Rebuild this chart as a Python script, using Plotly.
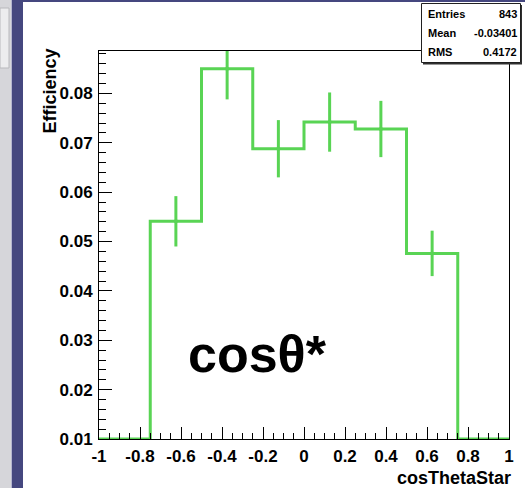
import plotly.graph_objects as go

# ---- data ----
bin_edges = [-1.0, -0.75, -0.5, -0.25, 0.0, 0.25, 0.5, 0.75, 1.0]
bin_centers = [-0.875, -0.625, -0.375, -0.125, 0.125, 0.375, 0.625, 0.875]
efficiency = [0.0, 0.0541, 0.0850, 0.0688, 0.0742, 0.0728, 0.0476, 0.0]
eff_error = [0.0, 0.0051, 0.0062, 0.0058, 0.0060, 0.0057, 0.0046, 0.0]

xtick_vals = [-1, -0.8, -0.6, -0.4, -0.2, 0, 0.2, 0.4, 0.6, 0.8, 1]
xtick_text = ["-1", "-0.8", "-0.6", "-0.4", "-0.2", "0", "0.2", "0.4", "0.6", "0.8", "1"]
ytick_vals = [0.01, 0.02, 0.03, 0.04, 0.05, 0.06, 0.07, 0.08]
ytick_text = ["0.01", "0.02", "0.03", "0.04", "0.05", "0.06", "0.07", "0.08"]

stats_names = ["Entries", "Mean", "RMS"]
stats_values = ["843", "-0.03401", "0.4172"]

x_title = "cosThetaStar"
y_title = "Efficiency"
big_label = "cosθ*"

Y_MIN, Y_MAX = 0.01, 0.0886
GREEN = "#59d454"
FONT = "Liberation Sans"

# histogram drawn at the axis minimum where it falls below it (ROOT style)
shown = [max(v, Y_MIN) for v in efficiency]
step_y = shown + [shown[-1]]

W, H = 525, 488
ML, MR, MT, MB = 99, 16, 51, 49
PW, PH = W - ML - MR, H - MT - MB


def px(x):
    return (x - ML) / PW


def py(y):
    return (H - MB - y) / PH


fig = go.Figure()
fig.add_trace(go.Scatter(
    x=bin_edges, y=step_y, mode="lines", line=dict(color=GREEN, width=3, shape="hv"),
    hoverinfo="skip", showlegend=False, cliponaxis=True))

err_x = [c for c, v in zip(bin_centers, efficiency) if v > 0]
err_y = [v for v in efficiency if v > 0]
err_e = [e for e, v in zip(eff_error, efficiency) if v > 0]
fig.add_trace(go.Scatter(
    x=err_x, y=err_y, mode="markers",
    marker=dict(color=GREEN, size=4),
    error_y=dict(type="data", array=err_e, color=GREEN, thickness=3, width=0),
    showlegend=False, cliponaxis=True))

tickfont = dict(family=FONT, size=17, color="black", weight="bold")
fig.update_xaxes(
    range=[-1, 1], showgrid=False, zeroline=False,
    showline=True, mirror=True, linecolor="black", linewidth=1,
    tickmode="array", tickvals=xtick_vals, ticktext=xtick_text,
    ticks="inside", ticklen=12, tickcolor="black", tickwidth=1,
    minor=dict(tickmode="linear", tick0=-1, dtick=0.05, ticks="inside", ticklen=6,
               tickcolor="black", tickwidth=1, showgrid=False),
    tickfont=tickfont, ticklabelstandoff=2)
fig.update_yaxes(
    range=[Y_MIN, Y_MAX], showgrid=False, zeroline=False,
    showline=True, mirror=True, linecolor="black", linewidth=1,
    tickmode="array", tickvals=ytick_vals, ticktext=ytick_text,
    ticks="inside", ticklen=13, tickcolor="black", tickwidth=1,
    minor=dict(tickmode="linear", tick0=0, dtick=0.002, ticks="inside", ticklen=7,
               tickcolor="black", tickwidth=1, showgrid=False),
    tickfont=tickfont, ticklabelstandoff=2)

shapes = [
    # window decorations on the left and top
    dict(type="rect", xref="paper", yref="paper", x0=px(0), x1=px(11), y0=py(H), y1=py(0),
         fillcolor="#d6d6da", line=dict(width=0), layer="below"),
    dict(type="rect", xref="paper", yref="paper", x0=px(0), x1=px(9), y0=py(68), y1=py(8),
         fillcolor="#ececee", line=dict(color="#b8b8bc", width=1), layer="below"),
    dict(type="rect", xref="paper", yref="paper", x0=px(11), x1=px(12), y0=py(H), y1=py(0),
         fillcolor="#b4b5cf", line=dict(width=0), layer="below"),
    dict(type="rect", xref="paper", yref="paper", x0=px(12), x1=px(23), y0=py(H), y1=py(0),
         fillcolor="#45477f", line=dict(width=0), layer="below"),
    dict(type="rect", xref="paper", yref="paper", x0=px(23), x1=px(W), y0=py(2), y1=py(0),
         fillcolor="#45477f", line=dict(width=0), layer="below"),
    # stats box shadow + box
    dict(type="rect", xref="paper", yref="paper", x0=px(423), x1=px(522), y0=py(64.5), y1=py(5),
         fillcolor="#303030", line=dict(width=0), layer="above"),
    dict(type="rect", xref="paper", yref="paper", x0=px(421.5), x1=px(520.5), y0=py(62.5), y1=py(3.5),
         fillcolor="white", line=dict(color="#202020", width=1), layer="above"),
]

annotations = []
row_y = [14.5, 33.5, 52.5]
for name, val, ry in zip(stats_names, stats_values, row_y):
    annotations.append(dict(xref="paper", yref="paper", x=px(426), y=py(ry), text=name,
                            xanchor="left", yanchor="middle", showarrow=False,
                            font=dict(family=FONT, size=11, color="black", weight="bold")))
    annotations.append(dict(xref="paper", yref="paper", x=px(518.5), y=py(ry), text=val,
                            xanchor="right", yanchor="middle", showarrow=False,
                            font=dict(family=FONT, size=11, color="black", weight="bold")))

annotations.append(dict(xref="paper", yref="paper", x=px(513), y=py(478), text=x_title,
                        xanchor="right", yanchor="middle", showarrow=False,
                        font=dict(family=FONT, size=18, color="black", weight="bold")))
annotations.append(dict(xref="paper", yref="paper", x=px(49), y=py(47), text=y_title,
                        textangle=-90, xanchor="center", yanchor="top", showarrow=False,
                        font=dict(family=FONT, size=18, color="black", weight="bold")))
annotations.append(dict(xref="paper", yref="paper", x=px(186), y=py(354), text=big_label,
                        xanchor="left", yanchor="middle", showarrow=False,
                        font=dict(family=FONT, size=52, color="black", weight="bold")))

fig.update_layout(
    width=W, height=H, margin=dict(l=ML, r=MR, t=MT, b=MB),
    paper_bgcolor="white", plot_bgcolor="white",
    shapes=shapes, annotations=annotations, showlegend=False)

fig.write_html("out.html")
